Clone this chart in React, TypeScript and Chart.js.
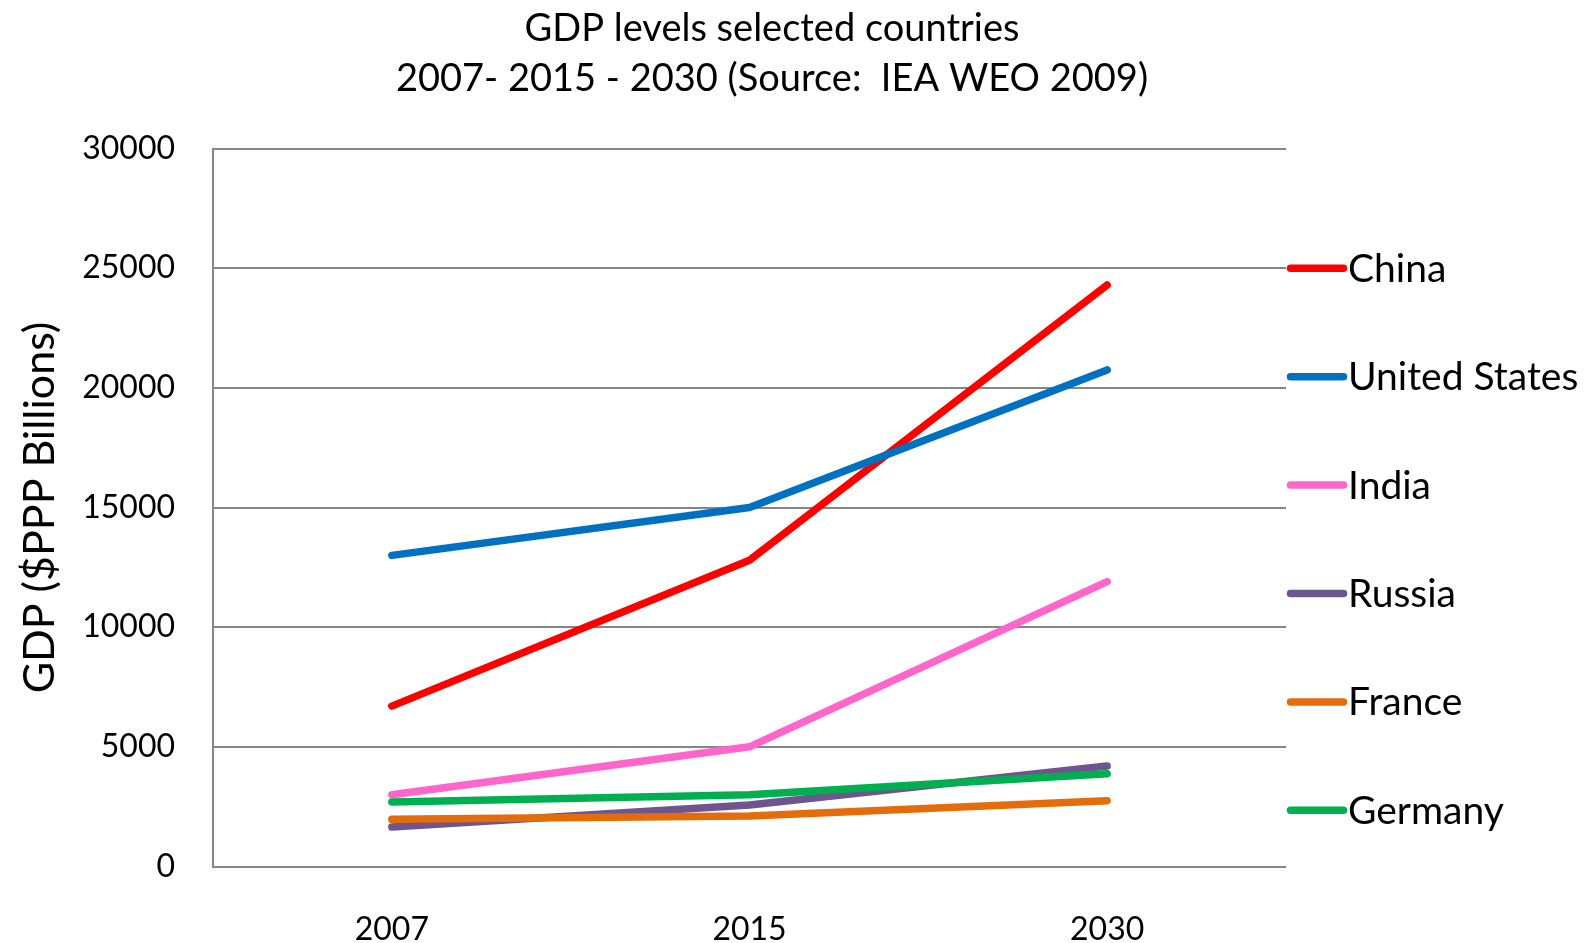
import React, { useEffect, useRef } from "react";
import { Chart, registerables } from "chart.js";

Chart.register(...registerables);

const FONT = "Lato, 'Noto Sans', sans-serif";

const categories = ["2007", "2015", "2030"];
const seriesNames = ["China", "United States", "India", "Russia", "France", "Germany"];
const china = [6700, 12800, 24300];
const unitedStates = [13000, 15000, 20750];
const india = [3000, 5000, 11900];
const russia = [1650, 2570, 4200];
const france = [1970, 2110, 2750];
const germany = [2700, 3000, 3880];
const seriesValues = [china, unitedStates, india, russia, france, germany];
const seriesColors = ["#FF0000", "#0070C0", "#FF66CC", "#6E558E", "#E46C0A", "#00B050"];
const yMin = 0;
const yMax = 30000;
const yStep = 5000;
const titleLines = ["GDP levels selected countries", "2007- 2015 - 2030 (Source:  IEA WEO 2009)"];
const yAxisTitle = "GDP ($PPP Billions)";

const GRID = "#868686";

const chartTitle = {
  id: "chartTitle",
  afterDraw(chart: any) {
    const { ctx } = chart;
    ctx.save();
    ctx.fillStyle = "#000";
    ctx.font = `38px ${FONT}`;
    ctx.textAlign = "center";
    ctx.textBaseline = "middle";
    const cx = 772;
    titleLines.forEach((line, i) => {
      ctx.fillText(line, cx, 28.5 + i * 50.7);
    });
    ctx.restore();
  },
};

const sideLegend = {
  id: "sideLegend",
  afterDraw(chart: any) {
    const { ctx, chartArea } = chart;
    const x0 = chartArea.right;
    const top = 268.3;
    const step = 108.4;
    ctx.save();
    seriesNames.forEach((name, i) => {
      const y = top + i * step;
      ctx.beginPath();
      ctx.strokeStyle = seriesColors[i];
      ctx.lineWidth = 7.5;
      ctx.lineCap = "round";
      ctx.moveTo(x0 + 4.5, y);
      ctx.lineTo(x0 + 57.5, y);
      ctx.stroke();
      ctx.fillStyle = "#000";
      ctx.font = `39px ${FONT}`;
      ctx.textAlign = "left";
      ctx.textBaseline = "middle";
      ctx.fillText(name, x0 + 62, y + 1);
    });
    ctx.restore();
  },
};

export default function App() {
  const ref = useRef<HTMLCanvasElement | null>(null);
  useEffect(() => {
    if (!ref.current) return;
    const chart = new Chart(ref.current, {
      type: "line",
      data: {
        labels: categories,
        datasets: seriesNames.map((name, i) => ({
          label: name,
          data: seriesValues[i],
          borderColor: seriesColors[i],
          backgroundColor: seriesColors[i],
          borderWidth: 7.5,
          borderCapStyle: "round",
          borderJoinStyle: "round",
          pointRadius: 0,
          tension: 0,
          fill: false,
          order: seriesNames.length - 1 - i,
        })),
      },
      options: {
        responsive: false,
        animation: false,
        devicePixelRatio: 1,
        layout: { padding: { left: 0, right: 302, top: 148.5, bottom: 0 } },
        plugins: {
          legend: { display: false },
          tooltip: { enabled: false },
          title: { display: false },
        },
        scales: {
          x: {
            offset: true,
            grid: { display: false, drawTicks: false },
            border: { display: false },
            ticks: { color: "#000", font: { family: FONT, size: 32 }, padding: 44, maxRotation: 0 },
            afterFit(scale: any) {
              scale.height = 76.5;
            },
          },
          y: {
            min: yMin,
            max: yMax,
            ticks: {
              stepSize: yStep,
              color: "#000",
              font: { family: FONT, size: 32 },
              padding: 38,
              callback: (v: any) => String(v),
            },
            grid: { color: GRID, lineWidth: 2, drawTicks: false },
            border: { display: true, color: GRID, width: 2 },
            title: {
              display: true,
              text: yAxisTitle,
              color: "#000",
              font: { family: FONT, size: 43 },
              padding: { top: 14, bottom: 0 },
            },
            afterFit(scale: any) {
              scale.width = 213;
            },
          },
        },
      },
      plugins: [chartTitle, sideLegend],
    } as any);
    return () => chart.destroy();
  }, []);
  return (
    <div style={{ position: "fixed", left: 0, top: 0, width: 1588, height: 943, background: "#fff" }}>
      <canvas ref={ref} width={1588} height={943} style={{ display: "block" }} />
    </div>
  );
}
